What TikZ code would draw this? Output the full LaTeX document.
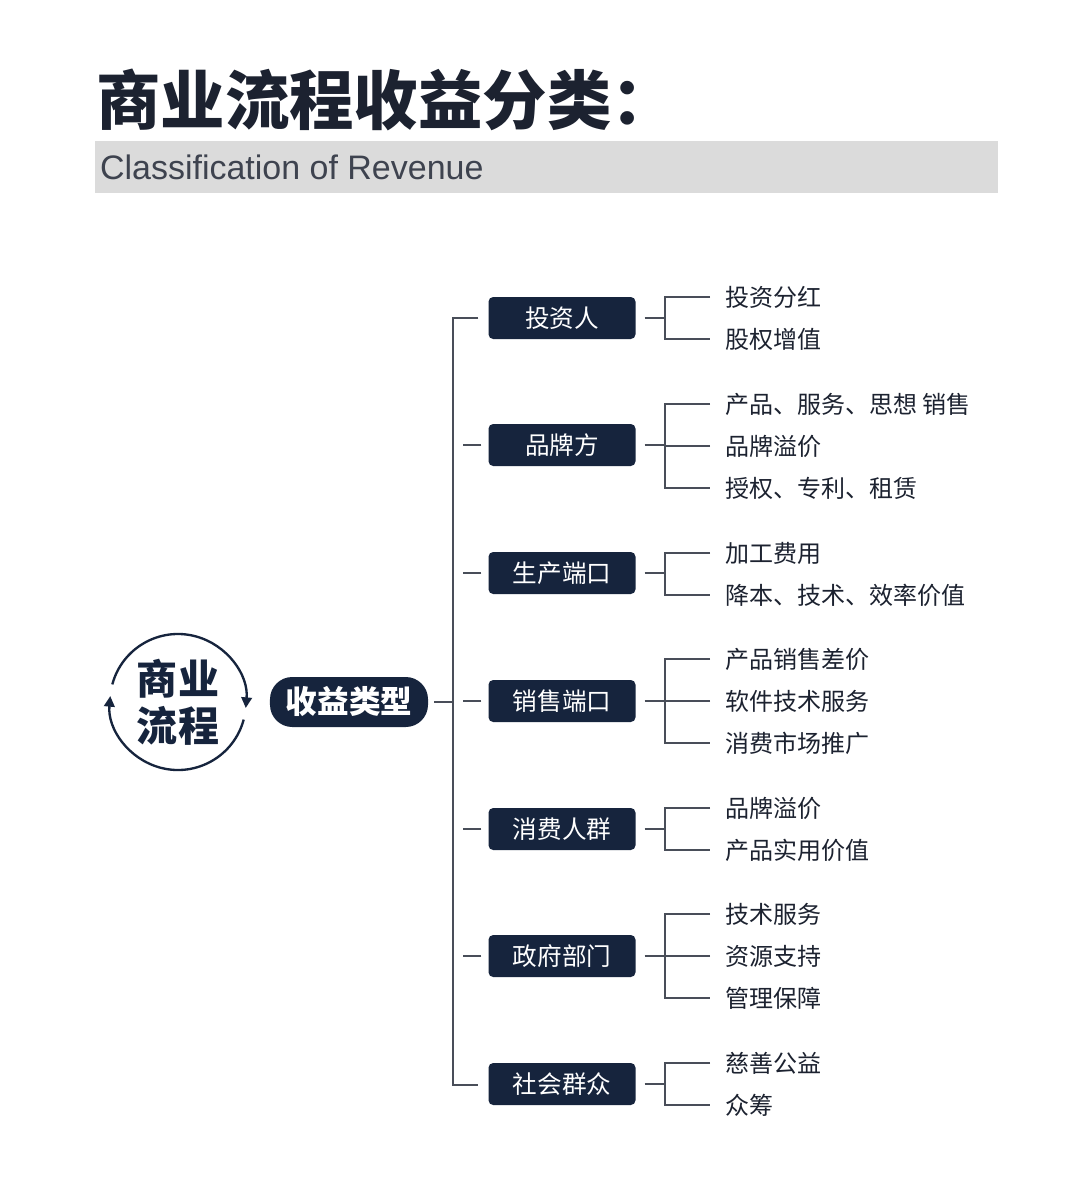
\documentclass[tikz,border=0pt]{standalone}
\usepackage{fontspec}
\setmainfont{Noto Sans CJK SC}
\newfontfamily\latinfont{Liberation Sans}
\usetikzlibrary{arrows.meta}
\definecolor{navy}{HTML}{16243D}
\definecolor{ink}{HTML}{1C2230}
\begin{document}
\begin{tikzpicture}[x=0.03cm,y=-0.03cm]
\tikzstyle{grp}=[rectangle, rounded corners=4pt, fill=navy, text=white, minimum width=4.41cm, minimum height=1.26cm, font=\fontsize{21pt}{23pt}\selectfont]
\tikzstyle{leaf}=[anchor=west, text=ink, inner sep=0pt, font=\fontsize{20.5pt}{23pt}\selectfont]
\tikzstyle{ln}=[draw=ink!80, line width=0.9pt]
\useasboundingbox (0,0) rectangle (1080,1203);
\fill[white] (0,0) rectangle (1080,1203);
% title
\node (title) [anchor=west, text=ink, font=\fontsize{55pt}{58pt}\selectfont\bfseries] at (92,100) {商业流程收益分类：};
\fill[gray!28] (95,141) rectangle (998,193);
\node (sub) [anchor=west, text=ink!85, font=\latinfont\fontsize{29pt}{31pt}\selectfont] at (96,167) {Classification of Revenue};
% cycle
\node (cyc) [align=center, text=navy, font=\fontsize{35pt}{40pt}\selectfont\bfseries] at (178,702) {商业\\流程};
\draw[ln, draw=navy, line width=2pt, -{Triangle[length=9pt,width=9pt]}] (178,702) ++(165:68*0.03cm) arc (165:-5:68*0.03cm);
\draw[ln, draw=navy, line width=2pt, -{Triangle[length=9pt,width=9pt]}] (178,702) ++(-15:68*0.03cm) arc (-15:-185:68*0.03cm);
\node (root) [grp, rounded corners=19pt, minimum width=4.74cm, minimum height=1.5cm, font=\fontsize{27pt}{29pt}\selectfont\bfseries] at (349,702) {收益类型};
% groups
\node (g1) [grp] at (562,318) {投资人};
\node (g2) [grp] at (562,445) {品牌方};
\node (g3) [grp] at (562,573) {生产端口};
\node (g4) [grp] at (562,701) {销售端口};
\node (g5) [grp] at (562,829) {消费人群};
\node (g6) [grp] at (562,956) {政府部门};
\node (g7) [grp] at (562,1084) {社会群众};
\coordinate (tt) at (453,318);
\coordinate (tb) at (453,1085);
\draw[ln] (g1.west) ++(-10,0) -- (tt) -- (tb) -- ++(25,0);
\draw[ln] (root.east) ++(6,0) -- (453,702);
\foreach \g in {g2,g3,g4,g5,g6}
  \draw[ln] (\g.west) ++(-7,0) -- ++(-18,0);
% leaves
\node (l11) [leaf] at (725,297) {投资分红};
\node (l12) [leaf] at (725,339) {股权增值};
\node (l21) [leaf] at (725,404) {产品、服务、思想 销售};
\node (l22) [leaf] at (725,446) {品牌溢价};
\node (l23) [leaf] at (725,488) {授权、专利、租赁};
\node (l31) [leaf] at (725,553) {加工费用};
\node (l32) [leaf] at (725,595) {降本、技术、效率价值};
\node (l41) [leaf] at (725,659) {产品销售差价};
\node (l42) [leaf] at (725,701) {软件技术服务};
\node (l43) [leaf] at (725,743) {消费市场推广};
\node (l51) [leaf] at (725,808) {品牌溢价};
\node (l52) [leaf] at (725,850) {产品实用价值};
\node (l61) [leaf] at (725,914) {技术服务};
\node (l62) [leaf] at (725,956) {资源支持};
\node (l63) [leaf] at (725,998) {管理保障};
\node (l71) [leaf] at (725,1063) {慈善公益};
\node (l72) [leaf] at (725,1105) {众筹};
% brackets
\foreach \g/\a/\b in {g1/l11/l12, g2/l21/l23, g3/l31/l32, g4/l41/l43, g5/l51/l52, g6/l61/l63, g7/l71/l72}{
  \draw[ln] (\g.east) ++(9,0) -- (665,0 |- \g.east);
  \draw[ln] (\a.west) ++(-15,0) -- (665,0 |- \a.west) -- (665,0 |- \b.west) -- ++(45,0);
}
\foreach \l in {l22,l42,l62}
  \draw[ln] (\l.west) ++(-15,0) -- (665,0 |- \l.west);
\end{tikzpicture}
\end{document}
